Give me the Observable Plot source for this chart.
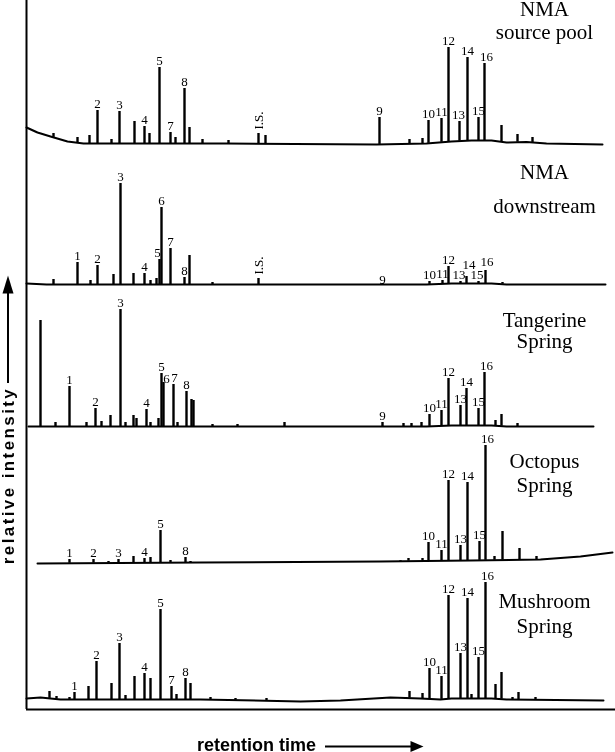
<!DOCTYPE html>
<html><head><meta charset="utf-8">
<script src="https://cdn.jsdelivr.net/npm/d3@7"></script>
<script src="https://cdn.jsdelivr.net/npm/@observablehq/plot@0.6"></script>
<style>body{margin:0;background:#fff} svg{display:block; filter: grayscale(1);}</style>
</head><body><div id="chart"></div>
<script>
// Sample names (top to bottom)
const traceNames = ["NMA\nsource pool", "NMA\ndownstream", "Tangerine\nSpring", "Octopus\nSpring", "Mushroom\nSpring"];
// vertical offset of each trace (relative intensity units)
const traceOffsets = [566, 425, 283, 147, 10];

// baseline drift: [retention time, level]
const baseSourcePool = [[0,16],[1.1,11],[2.4,7],[4.1,2],[5.7,0],[20,0],[35,-1],[40,0],[42.5,2],[44.5,3],[46.5,3],[48,1],[50,1.5],[52,0],[57.6,-1]];
const baseDownstream = [[0,1],[2,0],[40,0],[42.5,1],[46.5,1],[48,0],[57.9,0]];
const baseTangerine = [[0.2,0],[40,0],[42.5,1],[46.5,1],[48,0],[56.7,0]];
const baseOctopus = [[1.1,-1],[17.4,0],[35.4,1],[44.4,2],[51.4,3],[55.4,6],[58.6,10]];
const baseMushroom = [[0,1],[1.4,2],[3.4,0],[17.4,0],[27.4,-2],[31.4,-1],[36.4,2],[39.4,1],[41.4,0],[42.5,1],[46.5,1],[48,0],[57.7,-1]];

// peaks: [retention time, apex intensity, peak label]
const peaksSourcePool = [[2.7,10,""],[5.1,6,""],[6.3,8,""],[7.1,33,"2"],[8.5,4,""],[9.3,32,"3"],[10.8,22,""],[11.8,17,"4"],[12.3,10,""],[13.3,76,"5"],[14.4,11,"7"],[14.9,6,""],[15.8,55,"8"],[16.3,16,""],[17.6,4,""],[20.2,3,""],[23.2,10,"I.S."],[23.9,8,""],[35.3,26,"9"],[38.3,4,""],[39.6,5,""],[40.2,23,"10"],[41.5,25,"11"],[42.2,96,"12"],[43.3,22,"13"],[44.1,86,"14"],[45.2,26,"15"],[45.8,80,"16"],[47.5,18,""],[49.1,9,""],[50.6,6,""]];
const peaksDownstream = [[2.7,5,""],[5.1,22,"1"],[6.4,4,""],[7.1,19,"2"],[8.7,10,""],[9.4,101,"3"],[10.7,11,""],[11.8,11,"4"],[12.4,4,""],[13.0,6,""],[13.3,25,"5"],[13.5,77,"6"],[14.4,36,"7"],[15.8,7,"8"],[16.3,29,""],[18.6,2,""],[23.2,6,"I.S."],[35.6,1,"9"],[40.3,3,"10"],[41.6,4,"11"],[42.2,18,"12"],[43.4,3,"13"],[44.0,8,"14"],[45.2,3,"15"],[45.9,14,"16"],[47.6,2,""]];
const peaksTangerine = [[1.4,106,""],[2.9,4,""],[4.3,40,"1"],[6.0,4,""],[6.9,18,"2"],[7.5,5,""],[8.4,11,""],[9.4,117,"3"],[9.9,4,""],[10.7,11,""],[11.0,8,""],[12.0,17,"4"],[12.4,4,""],[13.2,8,""],[13.5,53,"5"],[13.7,44,"6"],[14.7,42,"7"],[15.1,4,""],[16.0,35,"8"],[16.5,27,""],[16.7,26,""],[18.6,2,""],[21.1,2,""],[25.8,4,""],[35.6,4,"9"],[37.7,3,""],[38.5,3,""],[39.5,4,""],[40.3,12,"10"],[41.5,16,"11"],[42.2,48,"12"],[43.4,21,"13"],[44.0,38,"14"],[45.2,18,"15"],[45.8,54,"16"],[46.9,6,""],[47.5,12,""],[49.1,3,""]];
const peaksOctopus = [[4.3,3,"1"],[6.7,3,"2"],[8.2,1,""],[9.2,3,"3"],[10.7,6,""],[11.8,4,"4"],[12.4,5,""],[13.4,32,"5"],[14.4,2,""],[15.9,5,"8"],[16.4,1,""],[37.4,2,""],[38.2,4,""],[39.6,4,""],[40.2,20,"10"],[41.5,12,"11"],[42.2,82,"12"],[43.4,17,"13"],[44.1,80,"14"],[45.3,21,"15"],[45.9,117,"16"],[46.8,6,""],[47.6,31,""],[49.3,14,""],[51.0,6,""]];
const peaksMushroom = [[1.0,2,""],[2.3,8,""],[3.0,3,""],[4.3,2,""],[4.8,7,"1"],[6.2,13,""],[7.0,38,"2"],[8.5,16,""],[9.3,56,"3"],[9.9,4,""],[10.8,23,""],[11.8,26,"4"],[12.4,21,""],[13.4,90,"5"],[14.5,13,"7"],[15.0,5,""],[15.9,21,"8"],[16.4,16,""],[18.4,2,""],[20.9,1,""],[24.0,1,""],[38.3,8,""],[39.6,6,""],[40.3,31,"10"],[41.5,23,"11"],[42.2,104,"12"],[43.4,46,"13"],[44.1,101,"14"],[44.5,5,""],[45.2,42,"15"],[45.9,117,"16"],[46.9,15,""],[47.5,27,""],[48.6,2,""],[49.2,7,""],[50.9,2,""]];

const xLabel = "retention time";
const yLabel = "relative intensity";

// ---- layout (not data) ----
const titleX = 51.8;
const titleY = [[700, 677], [537, 503], [389, 368], [248, 224], [108, 83]];
// label nudges in screen pixels [dx, dy]
const labelNudge = {
  "0|13": [-1, 0], "0|16": [2, 0],
  "1|5": [-2, 0], "1|9": [0, 3], "1|13": [-1.5, 0], "1|14": [2.5, -5], "1|15": [-1.5, 0], "1|16": [1.5, -2],
  "2|6": [3, 3], "2|7": [1, 0], "2|16": [2, 0],
  "3|16": [2, 0], "4|16": [2, 0]
};
const pxPerMin = 10; // x scale: 589 px over 58.9 min

const bases = [baseSourcePool, baseDownstream, baseTangerine, baseOctopus, baseMushroom];
const peaks = [peaksSourcePool, peaksDownstream, peaksTangerine, peaksOctopus, peaksMushroom];

const baseAt = (pts, x) => d3.scaleLinear(pts.map(d => d[0]), pts.map(d => d[1])).clamp(true)(x);

const baseRows = bases.flatMap((pts, i) => pts.map(([rt, v]) => ({trace: i, rt, y: traceOffsets[i] + v})));
const peakRows = peaks.flatMap((pts, i) => pts.map(([rt, apex, label]) => {
  const n = labelNudge[i + "|" + label] || [0, 0];
  return {
    trace: i, rt, label,
    base: traceOffsets[i] + baseAt(bases[i], rt),
    top: traceOffsets[i] + apex,
    lx: rt + n[0] / pxPerMin,
    ly: traceOffsets[i] + apex - n[1]
  };
}));
const numLabels = peakRows.filter(d => d.label && d.label !== "I.S.");
const isLabels = peakRows.filter(d => d.label === "I.S.");
const titleRows = traceNames.flatMap((n, i) => n.split("\n").map((s, j) => ({text: s, y: titleY[i][j]})));

const serif = "Liberation Serif, Times New Roman, serif";
const sans = "Liberation Sans, Arial, sans-serif";

const chart = Plot.plot({
  width: 615, height: 752,
  marginLeft: 26, marginRight: 0, marginTop: 0, marginBottom: 43,
  x: {domain: [0, 58.9], axis: null},
  y: {domain: [0, 709], axis: null},
  style: {background: "white", color: "black"},
  marks: [
    Plot.ruleX([0], {stroke: "black", strokeWidth: 2}),
    Plot.ruleY([0], {stroke: "black", strokeWidth: 2}),
    Plot.line(baseRows, {x: "rt", y: "y", z: "trace", stroke: "black", strokeWidth: 2}),
    Plot.ruleX(peakRows, {x: "rt", y1: "base", y2: "top", stroke: "black", strokeWidth: 2.4}),
    Plot.text(numLabels, {x: "lx", y: "ly", text: "label", dy: -7, fontFamily: serif, fontSize: 13, fill: "black"}),
    Plot.text(isLabels, {x: "rt", y: "top", text: "label", rotate: -90, textAnchor: "start", dy: -4, fontFamily: serif, fontSize: 13, fill: "black"}),
    Plot.text(titleRows, {x: titleX, y: "y", text: "text", fontFamily: serif, fontSize: 21, fill: "black"}),
    // axis labels with arrows
    Plot.text([yLabel], {x: -1.75, y: 234, text: d => d, rotate: -90, fontFamily: sans, fontWeight: "bold", fontSize: 17, fill: "black"}),
    Plot.ruleX([-1.85], {y1: 326, y2: 418, stroke: "black", strokeWidth: 2}),
    Plot.vector([0], {x: -1.85, y: 416, length: 18, r: 5.5, rotate: 0, shape: "spike", anchor: "start", fill: "black", stroke: "none"}),
    Plot.text([xLabel], {x: 23.0, y: -36, text: d => d, fontFamily: sans, fontWeight: "bold", fontSize: 18, fill: "black"}),
    Plot.ruleY([-37], {x1: 29.9, x2: 38.6, stroke: "black", strokeWidth: 2}),
    Plot.vector([0], {x: 38.4, y: -37, length: 13, r: 5.5, rotate: 90, shape: "spike", anchor: "start", fill: "black", stroke: "none"})
  ]
});
d3.select(chart).selectAll("text").filter(function() { return this.textContent === yLabel; })
  .style("letter-spacing", "2.4px");
document.getElementById("chart").appendChild(chart);
</script>
</body></html>
